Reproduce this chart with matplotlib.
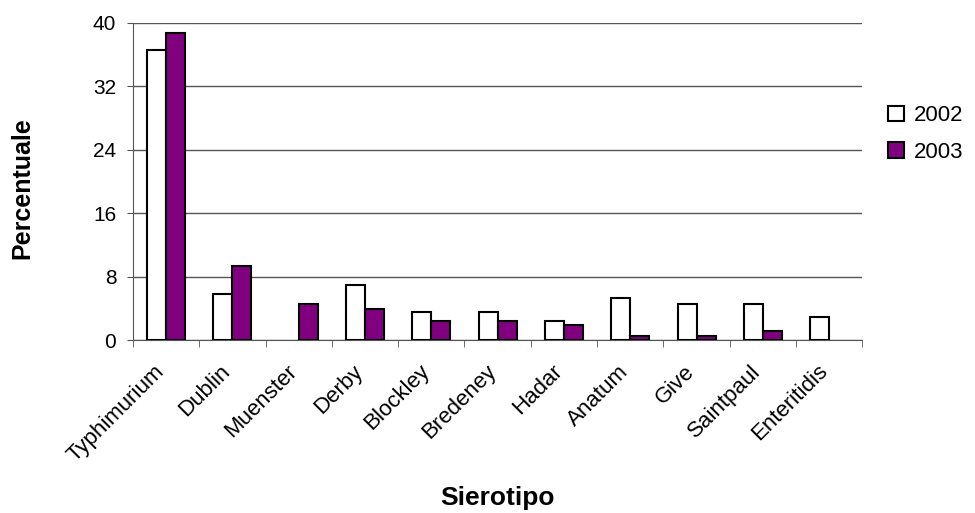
import matplotlib
matplotlib.use('Agg')
import matplotlib.pyplot as plt
import matplotlib.transforms as mtransforms
import numpy as np

plt.rcParams['font.family'] = ['Liberation Sans', 'DejaVu Sans']

sierotipi = ['Typhimurium', 'Dublin', 'Muenster', 'Derby', 'Blockley', 'Bredeney',
             'Hadar', 'Anatum', 'Give', 'Saintpaul', 'Enteritidis']
anno_2002 = [36.6, 5.8, 0, 6.9, 3.5, 3.5, 2.4, 5.3, 4.5, 4.5, 2.9]
anno_2003 = [38.7, 9.3, 4.5, 3.95, 2.4, 2.4, 1.85, 0.5, 0.5, 1.1, 0]

fig = plt.figure(figsize=(9.75, 5.13), dpi=100)
ax = fig.add_axes([0.1364, 0.3372, 0.748, 0.6186])

x = np.arange(len(sierotipi))
w = 0.287
b1 = ax.bar(x - w / 2, anno_2002, w, color='white', edgecolor='black', linewidth=1.5,
            label='2002', zorder=3)
b2 = ax.bar(x + w / 2, anno_2003, w, color='#800080', edgecolor='black', linewidth=1.5,
            label='2003', zorder=3)
# niente contorno per le barre a zero
for barre in (b1, b2):
    for p in barre:
        if p.get_height() == 0:
            p.set_linewidth(0)

ax.set_xlim(-0.5, len(sierotipi) - 0.5)
ax.set_ylim(0, 40)
ax.set_yticks([0, 8, 16, 24, 32, 40])
ax.yaxis.grid(True, color='#555555', linewidth=1, zorder=0)
for s in ['top', 'right']:
    ax.spines[s].set_visible(False)
ax.spines['left'].set_color('#555555')
ax.spines['bottom'].set_color('#555555')

ax.set_xticks(x)
ax.set_xticklabels(sierotipi, rotation=45, ha='right', va='top', rotation_mode='anchor', fontsize=16)
ax.tick_params(axis='x', length=0, pad=15)
offset = mtransforms.ScaledTranslation(-9 / 72, 0, fig.dpi_scale_trans)
for lab in ax.get_xticklabels():
    lab.set_transform(lab.get_transform() + offset)
ax.set_xticks(np.arange(len(sierotipi) + 1) - 0.5, minor=True)
ax.tick_params(axis='x', which='minor', length=5, color='#555555')
ax.tick_params(axis='y', labelsize=15, length=4, pad=8, color='#555555')

ax.set_ylabel('Percentuale', fontsize=18, fontweight='bold', va='center')
ax.yaxis.set_label_coords(-0.152, 0.48)
ax.set_xlabel('Sierotipo', fontsize=19, fontweight='bold', va='center')
ax.xaxis.set_label_coords(0.5, -0.497)

ax.legend(loc='center left', bbox_to_anchor=(888 / 975, 1 - 134 / 513),
          bbox_transform=fig.transFigure, frameon=False, fontsize=16,
          borderpad=0, borderaxespad=0,
          handlelength=0.7, handleheight=0.7, handletextpad=0.45, labelspacing=0.7)

fig.savefig('out.png', dpi=100)
